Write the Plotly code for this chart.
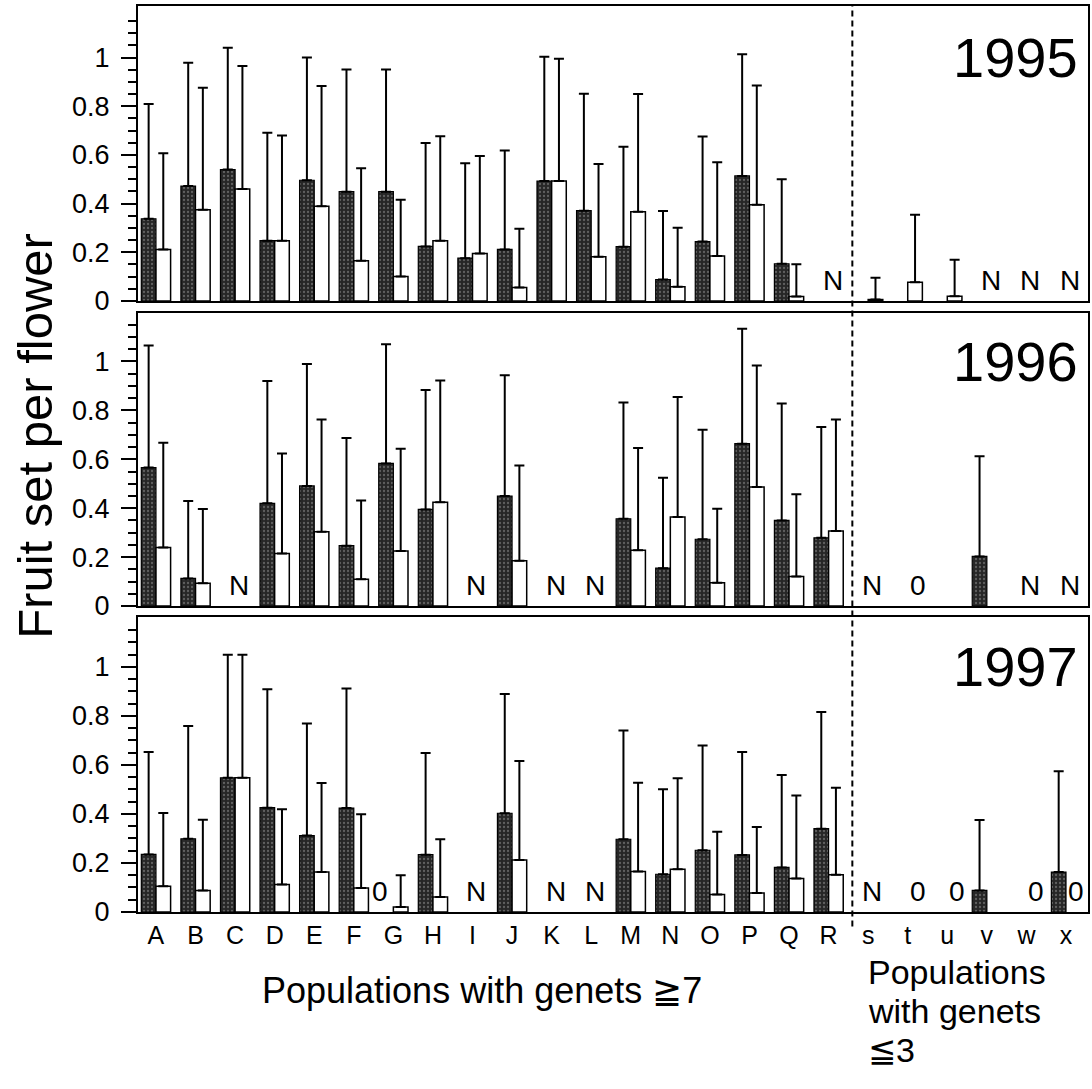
import plotly.graph_objects as go

categories = list("ABCDEFGHIJKLMNOPQR") + list("stuvwx")
years = ["1995", "1996", "1997"]
y_ticks = [0, 0.2, 0.4, 0.6, 0.8, 1]

# 1995 (mean and top of error bar)
dark_1995 = [0.338, 0.472, 0.540, 0.248, 0.496, 0.449, 0.449, 0.224, 0.176, 0.212, 0.493, 0.371,
             0.223, 0.088, 0.244, 0.514, 0.153, None, None, None, None, None, None, None]
dark_1995_top = [0.809, 0.979, 1.040, 0.691, 1.000, 0.951, 0.951, 0.649, 0.566, 0.618, 1.004, 0.851,
                 0.634, 0.370, 0.676, 1.014, 0.500, None, None, None, None, None, None, None]
white_1995 = [0.212, 0.375, 0.460, 0.248, 0.389, 0.165, 0.101, 0.248, 0.195, 0.055, 0.493, 0.182,
              0.367, 0.059, 0.185, 0.395, 0.018, None, 0.006, 0.077, 0.020, None, None, None]
white_1995_top = [0.607, 0.876, 0.965, 0.680, 0.883, 0.545, 0.416, 0.677, 0.596, 0.297, 0.995, 0.563,
                  0.850, 0.301, 0.570, 0.885, 0.151, None, 0.096, 0.354, 0.169, None, None, None]
labels_1995 = {"R": "N", "v": "N", "w": "N", "x": "N"}

# 1996
dark_1996 = [0.566, 0.113, None, 0.420, 0.491, 0.247, 0.583, 0.395, None, 0.450, None, None,
             0.357, 0.155, 0.273, 0.664, 0.350, 0.279, None, None, None, 0.203, None, None]
dark_1996_top = [1.065, 0.429, None, 0.920, 0.990, 0.687, 1.070, 0.883, None, 0.944, None, None,
                 0.832, 0.525, 0.721, 1.134, 0.828, 0.732, None, None, None, 0.612, None, None]
white_1996 = [0.239, 0.093, None, 0.215, 0.304, 0.110, 0.225, 0.424, None, 0.185, None, None,
              0.228, 0.364, 0.095, 0.487, 0.121, 0.307, None, None, None, None, None, None]
white_1996_top = [0.668, 0.397, None, 0.624, 0.763, 0.432, 0.643, 0.922, None, 0.575, None, None,
                  0.646, 0.855, 0.398, 0.984, 0.457, 0.763, None, None, None, None, None, None]
labels_1996 = {"C": "N", "I": "N", "K": "N", "L": "N", "s": "N", "t": "0", "w": "N", "x": "N"}

# 1997
dark_1997 = [0.235, 0.299, 0.548, 0.426, 0.312, 0.424, None, 0.234, None, 0.403, None, None,
             0.297, 0.154, 0.252, 0.233, 0.182, 0.340, None, None, None, 0.088, None, 0.163]
dark_1997_top = [0.653, 0.759, 1.050, 0.909, 0.769, 0.912, None, 0.649, None, 0.890, None, None,
                 0.741, 0.501, 0.680, 0.653, 0.559, 0.816, None, None, None, 0.376, None, 0.574]
white_1997 = [0.105, 0.088, 0.548, 0.112, 0.163, 0.098, 0.020, 0.061, None, 0.212, None, None,
              0.165, 0.174, 0.071, 0.078, 0.137, 0.152, None, None, None, None, None, None]
white_1997_top = [0.404, 0.377, 1.050, 0.419, 0.527, 0.399, 0.150, 0.297, None, 0.616, None, None,
                  0.528, 0.546, 0.328, 0.347, 0.476, 0.507, None, None, None, None, None, None]
labels_1997 = {"G": "0", "I": "N", "K": "N", "L": "N", "s": "N", "t": "0", "u": "0", "w": "0", "x": "0"}

panels = [
    (dark_1995, dark_1995_top, white_1995, white_1995_top, labels_1995),
    (dark_1996, dark_1996_top, white_1996, white_1996_top, labels_1996),
    (dark_1997, dark_1997_top, white_1997, white_1997_top, labels_1997),
]

FONT = "Liberation Sans, Arial, Helvetica, sans-serif"
DARK = "#262626"
BW = 0.37
domains = [[0.6744, 1.0], [0.3377, 0.6611], [0.0, 0.3256]]
yranges = [[0, 1.212], [0, 1.198], [0, 1.204]]
minor_vals = [round(0.05 * i, 2) for i in range(1, 25) if i % 4 != 0]


def err(mean, top):
    return [None if (m is None or t is None) else t - m for m, t in zip(mean, top)]


fig = go.Figure()
annotations = []
for k, (dm, dt, wm, wt, labels) in enumerate(panels):
    sfx = "" if k == 0 else str(k + 1)
    xa, ya = "x" + sfx, "y" + sfx
    fig.add_trace(go.Bar(
        x=categories, y=dm, offset=-BW, width=BW, xaxis=xa, yaxis=ya, showlegend=False,
        marker=dict(color=DARK, line=dict(color="black", width=1.2),
                    pattern=dict(shape=".", fgcolor="#9c9c9c", bgcolor=DARK, size=4, solidity=0.25)),
        error_y=dict(type="data", symmetric=False, array=err(dm, dt), arrayminus=[0] * len(dm),
                     color="black", thickness=2, width=5),
    ))
    fig.add_trace(go.Bar(
        x=categories, y=wm, offset=0, width=BW, xaxis=xa, yaxis=ya, showlegend=False,
        marker=dict(color="white", line=dict(color="black", width=1.5)),
        error_y=dict(type="data", symmetric=False, array=err(wm, wt), arrayminus=[0] * len(wm),
                     color="black", thickness=2, width=5),
    ))
    fig.layout["xaxis" + sfx] = dict(
        domain=[0, 1], anchor=ya, type="category", categoryorder="array", categoryarray=categories,
        range=[-0.454, 23.556], showline=True, linecolor="black", linewidth=1.5, mirror=True,
        ticks="", showticklabels=(k == 2), tickfont=dict(family=FONT, size=25, color="black"),
        showgrid=False, zeroline=False)
    fig.layout["yaxis" + sfx] = dict(
        domain=domains[k], anchor=xa, range=yranges[k], tickmode="array", tickvals=y_ticks,
        ticks="outside", ticklen=15, tickwidth=2, tickcolor="black", ticklabelstandoff=6,
        minor=dict(tickmode="array", tickvals=minor_vals, ticks="outside", ticklen=8,
                   tickwidth=1.5, tickcolor="black"),
        showline=True, linecolor="black", linewidth=2, mirror=True,
        tickfont=dict(family=FONT, size=27, color="black"),
        showgrid=False, zeroline=False)
    annotations.append(dict(text=years[k], xref="paper", yref=ya, x=0.9916, y=1.0,
                            xanchor="right", yanchor="middle", showarrow=False,
                            font=dict(family=FONT, size=56, color="black")))
    for cat, txt in labels.items():
        i = categories.index(cat)
        if txt == "N":
            xpos = i + 0.1
        elif cat == "G":
            xpos = i - 0.35
        else:
            xpos = i + 0.25
        annotations.append(dict(text=txt, xref=xa, yref=ya, x=xpos, y=0.085,
                                xanchor="center", yanchor="middle", showarrow=False,
                                font=dict(family=FONT, size=28, color="black")))

annotations.append(dict(text="Fruit set per flower", xref="paper", yref="paper", x=-0.108, y=0.526,
                        xanchor="center", yanchor="middle", textangle=-90, showarrow=False,
                        font=dict(family=FONT, size=49, color="black")))
annotations.append(dict(text="Populations with genets ≧7", xref="paper", yref="paper", x=0.3624,
                        y=-0.0861, xanchor="center", yanchor="middle", showarrow=False,
                        font=dict(family=FONT, size=36, color="black")))
for j, line in enumerate(["Populations", "with genets", "≦3"]):
    annotations.append(dict(text=line, xref="paper", yref="paper", x=0.7668,
                            y=(912 - (972 + 39 * j)) / 906, xanchor="left", yanchor="middle",
                            showarrow=False, font=dict(family=FONT, size=34, color="black")))

fig.update_layout(
    width=1092, height=1089, margin=dict(l=138, r=2, t=6, b=177),
    paper_bgcolor="white", plot_bgcolor="white", annotations=annotations,
    shapes=[dict(type="line", xref="x3", yref="paper", x0=17.6, x1=17.6, y0=-0.016, y1=1.0,
                 line=dict(color="black", width=2, dash="6px,4px"))],
)

fig.write_html("out.html", config={"displayModeBar": False},
               post_script="document.body.style.margin='0';")
